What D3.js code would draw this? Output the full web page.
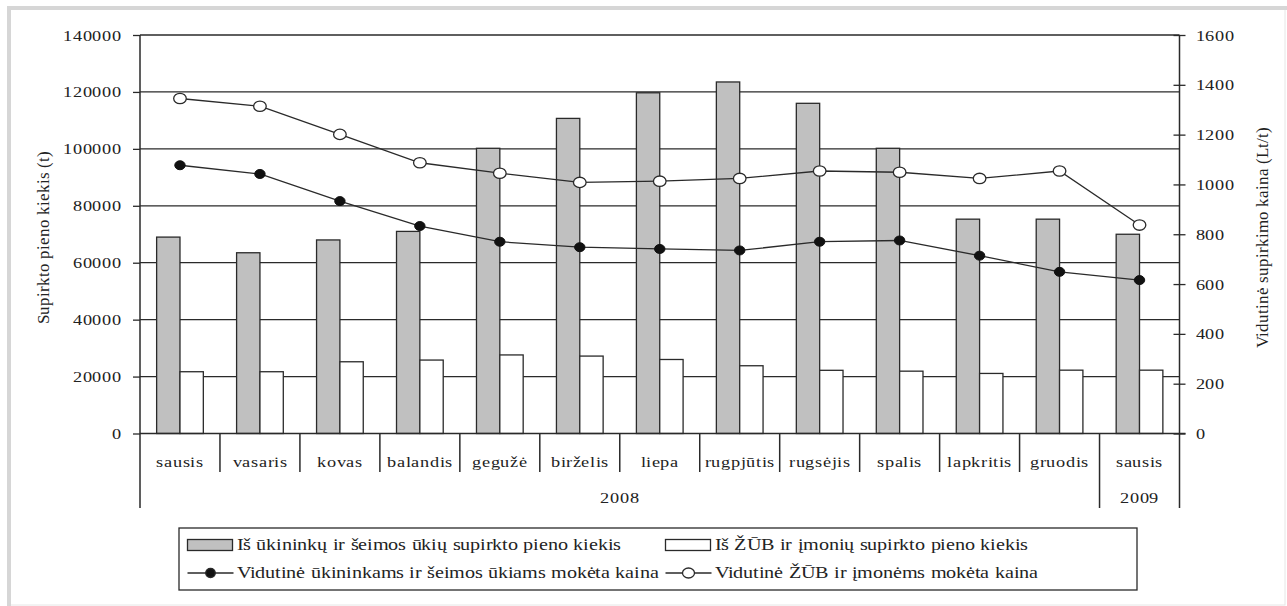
<!DOCTYPE html>
<html><head><meta charset="utf-8">
<script src="https://cdn.jsdelivr.net/npm/d3@7"></script>
<style>
@font-face{font-family:"SerifX";src:local("Liberation Serif"),local("LiberationSerif"),local("LiberationSerif-Regular"),local("DejaVu Serif"),local("DejaVuSerif");}
html,body{margin:0;padding:0;background:#fff;}
svg text{font-family:"SerifX","Liberation Serif","DejaVu Serif",serif !important;}
</style></head>
<body>
<svg id="c" width="1287" height="606"></svg>
<script>
const months = ["sausis","vasaris","kovas","balandis","gegužė","birželis","liepa","rugpjūtis","rugsėjis","spalis","lapkritis","gruodis","sausis"];
const years = [{label:"2008", from:0, to:11},{label:"2009", from:12, to:12}];
const farmQty = [69000,63500,68000,71000,100200,110700,119700,123500,116000,100200,75300,75300,70000];
const compQty = [21700,21700,25200,25800,27600,27200,26000,23800,22200,21900,21100,22250,22250];
const farmPrice = [1077,1042,933,833,770,748,741,735,770,775,714,649,616];
const compPrice = [1345,1314,1201,1087,1045,1008,1013,1024,1054,1049,1024,1054,837];
const leftTicks = [0,20000,40000,60000,80000,100000,120000,140000];
const rightTicks = [0,200,400,600,800,1000,1200,1400,1600];
const legendLabels = ["Iš ūkininkų ir šeimos ūkių supirkto pieno kiekis","Iš ŽŪB ir įmonių supirkto pieno kiekis","Vidutinė ūkininkams ir šeimos ūkiams mokėta kaina","Vidutinė ŽŪB ir įmonėms mokėta kaina"];
const yLeftTitle = "Supirkto pieno kiekis (t)";
const yRightTitle = "Vidutinė supirkimo kaina (Lt/t)";

const svg = d3.select("#c");
const L = 140, R = 1179.5, T = 35, B = 433.5;
const ink = "#2a2a2a";
const SX = 1.22; // horizontal stretch of lettering seen in the reference

// apply horizontal stretch keeping anchor point
function stretch(sel, sx){
  sel.each(function(){
    const t = d3.select(this);
    const xx = +t.attr("x")||0, yy = +t.attr("y")||0;
    const pre = t.attr("transform")||"";
    t.attr("x",0).attr("y",0).attr("transform",`${pre} translate(${xx},${yy}) scale(${sx},1)`);
  });
}

// frame
svg.append("rect").attr("x",0).attr("y",0).attr("width",1287).attr("height",606).attr("fill","#fff");
svg.append("rect").attr("x",9).attr("y",8).attr("width",1276).attr("height",597)
  .attr("fill","none").attr("stroke","#e6e6e6").attr("stroke-width",1);
svg.append("rect").attr("x",7).attr("y",6).attr("width",4).attr("height",600).attr("fill","#d6d6d6");
svg.append("rect").attr("x",7).attr("y",6).attr("width",1280).attr("height",4).attr("fill","#d6d6d6");

const x = d3.scaleBand().domain(d3.range(months.length)).range([L,R]).paddingInner(0).paddingOuter(0);
const bw = x.bandwidth();
const xs = d3.scaleBand().domain(["farm","comp"]).range([bw*0.208, bw*0.792]).padding(0);
const yL = d3.scaleLinear().domain([0,140000]).range([B,T]);
const yR = d3.scaleLinear().domain([0,1600]).range([B,T]);

// gridlines
svg.append("g").selectAll("line").data(leftTicks.slice(1)).join("line")
  .attr("x1",L).attr("x2",R).attr("y1",d=>yL(d)).attr("y2",d=>yL(d))
  .attr("stroke",ink).attr("stroke-width",1.3);

// bars
const bars = svg.append("g");
months.forEach((m,i)=>{
  bars.append("rect").attr("x",x(i)+xs("farm")).attr("y",yL(farmQty[i]))
    .attr("width",xs.bandwidth()).attr("height",B-yL(farmQty[i]))
    .attr("fill","#c0c0c0").attr("stroke",ink).attr("stroke-width",1.3);
  bars.append("rect").attr("x",x(i)+xs("comp")).attr("y",yL(compQty[i]))
    .attr("width",xs.bandwidth()).attr("height",B-yL(compQty[i]))
    .attr("fill","#fff").attr("stroke",ink).attr("stroke-width",1.3);
});

// axes
const axL = svg.append("g").attr("transform",`translate(${L},0)`)
  .call(d3.axisLeft(yL).tickValues(leftTicks).tickSize(7).tickPadding(11).tickFormat(d3.format("d")));
const axR = svg.append("g").attr("transform",`translate(${R},0)`)
  .call(d3.axisRight(yR).tickValues(rightTicks).tickSize(6).tickPadding(10).tickFormat(d3.format("d")));
[axL,axR].forEach(a=>{
  a.attr("font-family",null);
  a.select(".domain").remove();
  a.selectAll("line").attr("stroke",ink).attr("stroke-width",1.3);
  a.selectAll("text").attr("font-size",15).attr("fill","#222");
});
axR.selectAll(".tick line").attr("x1",-6);
axL.selectAll("text").attr("dy",null).attr("y",5).call(stretch,SX);
axR.selectAll("text").attr("dy",null).attr("y",5).call(stretch,SX);
// axis lines
svg.append("line").attr("x1",L).attr("x2",L).attr("y1",T).attr("y2",508).attr("stroke",ink).attr("stroke-width",1.5);
svg.append("line").attr("x1",R).attr("x2",R).attr("y1",T).attr("y2",508).attr("stroke",ink).attr("stroke-width",1.5);
svg.append("line").attr("x1",L).attr("x2",R+6).attr("y1",B).attr("y2",B).attr("stroke",ink).attr("stroke-width",1.5);

// category separators
svg.append("g").selectAll("line").data(d3.range(1,months.length)).join("line")
  .attr("x1",d=>x(d)).attr("x2",d=>x(d)).attr("y1",B).attr("y2",d=>years.some(y=>y.from===d)?508:472)
  .attr("stroke",ink).attr("stroke-width",1.5);

// month labels
svg.append("g").selectAll("text").data(months).join("text")
  .attr("x",(d,i)=>x(i)+bw/2).attr("y",467).attr("text-anchor","middle")
  .attr("font-size",15).attr("fill","#222").text(d=>d).call(stretch,SX);
// year labels
svg.append("g").selectAll("text").data(years).join("text")
  .attr("x",d=>(x(d.from)+x(d.to)+bw)/2).attr("y",503).attr("text-anchor","middle")
  .attr("font-size",15).attr("fill","#222").text(d=>d.label).call(stretch,SX);

// lines
const line = d3.line().x((d,i)=>x(i)+bw/2).curve(d3.curveLinear);
svg.append("path").datum(compPrice).attr("d",line.y(d=>yR(d))).attr("fill","none").attr("stroke",ink).attr("stroke-width",1.3);
svg.append("path").datum(farmPrice).attr("d",line.y(d=>yR(d))).attr("fill","none").attr("stroke",ink).attr("stroke-width",1.3);
svg.append("g").selectAll("ellipse").data(compPrice).join("ellipse")
  .attr("cx",(d,i)=>x(i)+bw/2).attr("cy",d=>yR(d)).attr("rx",6.3).attr("ry",5.2)
  .attr("fill","#fff").attr("stroke",ink).attr("stroke-width",1.3);
svg.append("g").selectAll("ellipse").data(farmPrice).join("ellipse")
  .attr("cx",(d,i)=>x(i)+bw/2).attr("cy",d=>yR(d)).attr("rx",5.2).attr("ry",4.5)
  .attr("fill","#111").attr("stroke","#111").attr("stroke-width",1);

// axis titles
svg.append("text").attr("transform","translate(49,237) rotate(-90)").attr("text-anchor","middle")
  .attr("font-size",16.5).attr("fill","#222").text(yLeftTitle);
svg.append("text").attr("transform","translate(1268,237) rotate(-90)").attr("text-anchor","middle")
  .attr("font-size",16.5).attr("fill","#222").text(yRightTitle);

// legend
const lg = svg.append("g");
lg.append("rect").attr("x",179).attr("y",528).attr("width",958).attr("height",62)
  .attr("fill","#fff").attr("stroke",ink).attr("stroke-width",1.3);
const cols = [187.5, 665.5];
const rows = [545, 573];
[[0,0],[1,0]].forEach(([c,r],k)=>{
  lg.append("rect").attr("x",cols[c]).attr("y",rows[r]-5.5).attr("width",45).attr("height",11)
    .attr("fill",k===0?"#c0c0c0":"#fff").attr("stroke",ink).attr("stroke-width",1.3);
});
[[0,1],[1,1]].forEach(([c,r],k)=>{
  lg.append("line").attr("x1",cols[c]).attr("x2",cols[c]+46).attr("y1",rows[r]).attr("y2",rows[r])
    .attr("stroke",ink).attr("stroke-width",1.3);
  lg.append("ellipse").attr("cx",cols[c]+23).attr("cy",rows[r]).attr("rx",k===0?4.8:6).attr("ry",k===0?4.5:5)
    .attr("fill",k===0?"#111":"#fff").attr("stroke",ink).attr("stroke-width",1.3);
});
const pos = [[0,0],[1,0],[0,1],[1,1]];
legendLabels.forEach((t,k)=>{
  const [c,r] = pos[k];
  lg.append("text").attr("x",cols[c]+49).attr("y",rows[r]+5).attr("font-size",16)
    .attr("fill","#222").text(t).call(stretch,1.26);
});
</script>
</body></html>
